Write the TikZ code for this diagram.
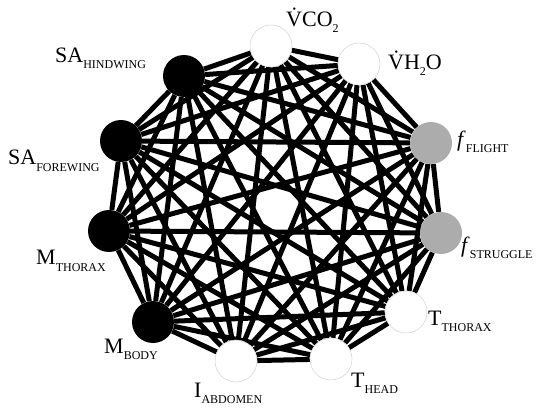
\documentclass[tikz,border=0pt]{standalone}
\usepackage{fontspec}
\setmainfont{Liberation Serif}
\usetikzlibrary{backgrounds}
\newcommand{\lowsub}[1]{\raisebox{-6pt}{\fontsize{12}{12}\selectfont #1}}

\begin{document}
\begin{tikzpicture}[x=1pt, y=-1pt,
        vert/.style={circle, minimum size=42pt, inner sep=0pt},
        dark/.style={vert, fill=black},
        mid/.style={vert, fill=gray!65},
        pale/.style={vert, fill=white, draw=gray!35, line width=0.5pt},
        lbl/.style={anchor=base west, inner sep=0pt, font=\fontsize{22}{22}\selectfont},
        link/.style={line width=5pt, black}]
    \useasboundingbox (0,0) rectangle (536,409);
    % variables
    \node [pale] (vco) at (271,46) {};
    \node [pale] (vho) at (359,64) {};
    \node [mid] (ffl) at (431,143) {};
    \node [mid] (fst) at (441,233) {};
    \node [pale] (tth) at (406,312) {};
    \node [pale] (thd) at (331,359) {};
    \node [pale] (iab) at (236,361) {};
    \node [dark] (mbd) at (153,322) {};
    \node [dark] (mth) at (109,231) {};
    \node [dark] (saf) at (121,141) {};
    \node [dark] (sah) at (184,76) {};
    \node [circle, fill=white, minimum size=32pt] (hub) at (276,211) {};
    % labels
    \node [lbl] (lvco) at (286,27) {\.{V}CO\lowsub{2}};
    \node [lbl] (lvho) at (388,70) {\.{V}H\lowsub{2}O};
    \node [lbl] (lffl) at (457,147) {\textit{f}\lowsub{FLIGHT}};
    \node [lbl] (lfst) at (461,252) {\textit{f}\lowsub{STRUGGLE}};
    \node [lbl] (ltth) at (428,325) {T\lowsub{THORAX}};
    \node [lbl] (lthd) at (351,387) {T\lowsub{HEAD}};
    \node [lbl] (liab) at (194,397) {I\lowsub{ABDOMEN}};
    \node [lbl] (lmbd) at (104,353) {M\lowsub{BODY}};
    \node [lbl] (lmth) at (36,265) {M\lowsub{THORAX}};
    \node [lbl] (lsaf) at (8,165) {SA\lowsub{FOREWING}};
    \node [lbl] (lsah) at (55,63) {SA\lowsub{HINDWING}};
    % every pair is joined
    \begin{scope}[on background layer]
        \foreach \a [count=\i] in {vco,vho,ffl,fst,tth,thd,iab,mbd,mth,saf,sah}
            \foreach \b [count=\j] in {vco,vho,ffl,fst,tth,thd,iab,mbd,mth,saf,sah}
                {\ifnum\j>\i \draw [link] (\a) -- (\b); \fi}
    \end{scope}
\end{tikzpicture}
\end{document}
